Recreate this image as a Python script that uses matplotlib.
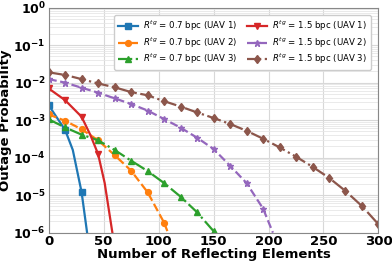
import numpy as np
import matplotlib
matplotlib.use("Agg")
import matplotlib.pyplot as plt
from matplotlib.ticker import LogLocator, FixedLocator, FuncFormatter, NullFormatter

# Data
x_blue = [0, 15, 22, 30, 35]
y_blue = [2.5e-3, 5.5e-4, 1.6e-4, 1.2e-5, 1e-6]

x_orange = [0, 15, 30, 45, 60, 75, 90, 105, 108]
y_orange = [1.42e-3, 9.6e-4, 5.7e-4, 2.9e-4, 1.17e-4, 4.5e-5, 1.2e-5, 1.85e-6, 1.1e-6]

x_green = [0, 15, 30, 45, 60, 75, 90, 105, 120, 135, 150, 152]
y_green = [1.05e-3, 6.4e-4, 4.1e-4, 2.9e-4, 1.6e-4, 8.3e-5, 4.4e-5, 2.1e-5, 9.1e-6, 3.5e-6, 1.1e-6, 1e-6]

x_red = [0, 15, 30, 38, 45, 51, 58]
y_red = [7e-3, 3.4e-3, 1.23e-3, 4e-4, 1.25e-4, 2.1e-5, 1e-6]

x_purple = [0, 15, 30, 45, 60, 75, 90, 105, 120, 135, 150, 165, 180, 195, 204]
y_purple = [1.24e-2, 1e-2, 7.3e-3, 5.4e-3, 3.8e-3, 2.7e-3, 1.8e-3, 1.07e-3, 6.3e-4,
            3.4e-4, 1.7e-4, 6.1e-5, 2.1e-5, 4.4e-6, 1e-6]

x_brown = [0, 15, 30, 45, 60, 75, 90, 105, 120, 135, 150, 165, 180, 195, 210, 225,
           240, 255, 270, 285, 300]
y_brown = [1.88e-2, 1.6e-2, 1.24e-2, 9.5e-3, 7.5e-3, 5.6e-3, 4.6e-3, 3.2e-3, 2.3e-3,
           1.6e-3, 1.14e-3, 7.9e-4, 5.2e-4, 3.2e-4, 1.88e-4, 1.06e-4, 5.7e-5, 2.9e-5,
           1.29e-5, 5.1e-6, 1.67e-6]

labels = [r'$R^{tg}$ = 0.7 bpc (UAV 1)', r'$R^{tg}$ = 0.7 bpc (UAV 2)', r'$R^{tg}$ = 0.7 bpc (UAV 3)',
          r'$R^{tg}$ = 1.5 bpc (UAV 1)', r'$R^{tg}$ = 1.5 bpc (UAV 2)', r'$R^{tg}$ = 1.5 bpc (UAV 3)']

x_ticks = [0, 50, 100, 150, 200, 250, 300]
y_ticks = [1e-6, 1e-5, 1e-4, 1e-3, 1e-2, 1e-1, 1e0]

fig = plt.figure(figsize=(3.92, 2.62), dpi=100)
ax = fig.add_axes([0.124, 0.112, 0.8415, 0.859])

series = [
    (x_blue, y_blue, '#1f77b4', '-', 's', 4),
    (x_orange, y_orange, '#ff7f0e', '--', 'o', 4.2),
    (x_green, y_green, '#2ca02c', '-.', '^', 4.2),
    (x_red, y_red, '#d62728', '-', 'v', 4.2),
    (x_purple, y_purple, '#9467bd', '--', '*', 4.8),
    (x_brown, y_brown, '#8c564b', '-.', 'd', 4.5),
]
for (xs, ys, c, ls, m, ms), lab in zip(series, labels):
    mk = [i for i, v in enumerate(xs) if v % 15 == 0]
    ax.plot(xs, ys, color=c, linestyle=ls, marker=m, markersize=ms, linewidth=1.6,
            markevery=mk, label=lab)

ax.set_yscale('log')
ax.set_xlim(0, 300)
ax.set_ylim(1e-6, 1e0)
ax.xaxis.set_major_locator(FixedLocator(x_ticks))
ax.yaxis.set_major_locator(FixedLocator(y_ticks))
ax.yaxis.set_minor_locator(LogLocator(base=10, subs=np.arange(2, 10)))
ax.yaxis.set_minor_formatter(NullFormatter())
ax.yaxis.set_major_formatter(FuncFormatter(lambda v, p: r'$\mathbf{10^{%d}}$' % int(round(np.log10(v)))))
ax.tick_params(axis='both', which='both', length=0, pad=2)
ax.tick_params(axis='y', labelsize=9)
ax.tick_params(axis='x', labelsize=9.5)
for t in ax.get_xticklabels():
    t.set_fontweight('bold')

ax.grid(True, which='major', color='#d8d8d8', linewidth=0.8)
ax.grid(True, which='minor', color='#e6e6e6', linewidth=0.6)
for s in ax.spines.values():
    s.set_color('#888888')
    s.set_linewidth(0.8)

ax.set_xlabel('Number of Reflecting Elements', fontsize=9.5, fontweight='bold', labelpad=0)
ax.set_ylabel('Outage Probability', fontsize=9.5, fontweight='bold', labelpad=1)

ax.legend(ncol=2, loc='upper right', fontsize=6.2, frameon=True, framealpha=1,
          bbox_to_anchor=(0.99, 0.985), handlelength=2.3, columnspacing=1.2,
          borderpad=0.4, labelspacing=0.25, handletextpad=0.6)

fig.savefig('out.png', dpi=100)
